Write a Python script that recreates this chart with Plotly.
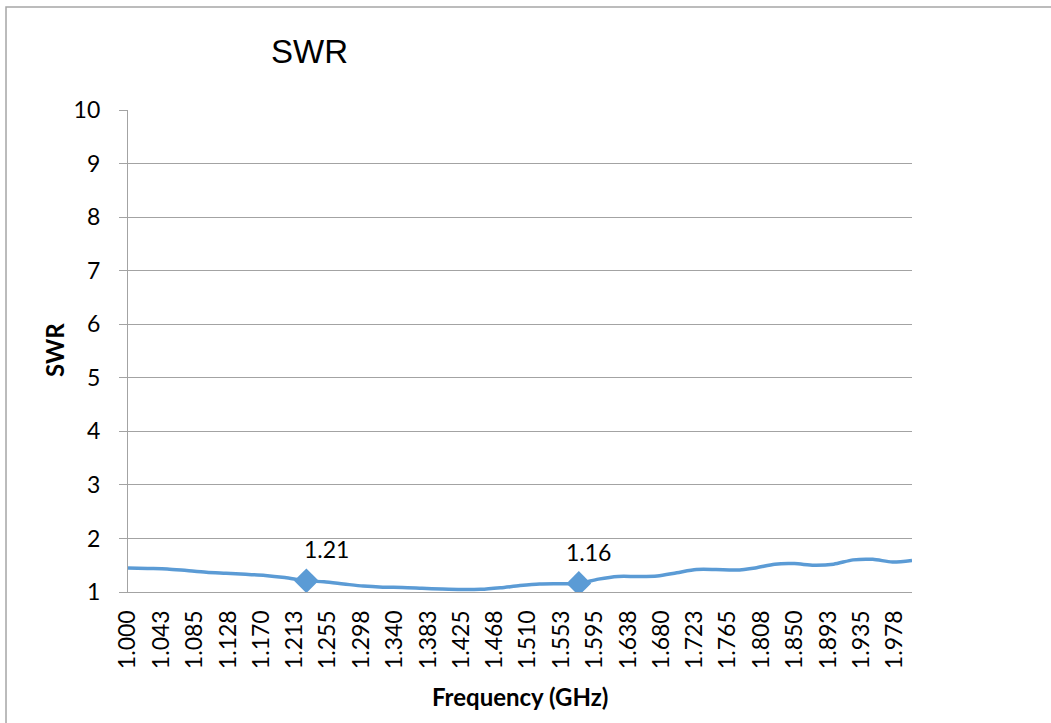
import plotly.graph_objects as go

# ---- data ----
freq_ghz = [1.000, 1.025, 1.050, 1.075, 1.100, 1.125, 1.150, 1.175, 1.200, 1.2275,
            1.250, 1.275, 1.300, 1.325, 1.350, 1.375, 1.400, 1.425, 1.450, 1.475,
            1.500, 1.525, 1.550, 1.575, 1.600, 1.625, 1.650, 1.675, 1.700, 1.725,
            1.750, 1.775, 1.800, 1.825, 1.850, 1.875, 1.900, 1.925, 1.950, 1.975, 2.000]
swr = [1.45, 1.44, 1.43, 1.40, 1.37, 1.35, 1.33, 1.31, 1.27, 1.21,
       1.19, 1.15, 1.11, 1.09, 1.085, 1.07, 1.055, 1.045, 1.05, 1.08,
       1.12, 1.15, 1.155, 1.16, 1.24, 1.29, 1.29, 1.30, 1.36, 1.42,
       1.42, 1.41, 1.45, 1.52, 1.53, 1.50, 1.52, 1.60, 1.61, 1.56, 1.59]

marker_freq = [1.2275, 1.575]
marker_swr = [1.21, 1.16]
marker_text = ["1.21", "1.16"]

x_tick_labels = ["1.000", "1.043", "1.085", "1.128", "1.170", "1.213", "1.255", "1.298",
                 "1.340", "1.383", "1.425", "1.468", "1.510", "1.553", "1.595", "1.638",
                 "1.680", "1.723", "1.765", "1.808", "1.850", "1.893", "1.935", "1.978"]
y_ticks = [1, 2, 3, 4, 5, 6, 7, 8, 9, 10]

LINE = "#5B9BD5"
GRID = "#A3A3A3"
TICKFONT = dict(family="Lato, Open Sans, sans-serif", size=23, color="#000000")

fig = go.Figure()
fig.add_trace(go.Scatter(x=freq_ghz, y=swr, mode="lines",
                         line=dict(color=LINE, width=3.5, shape="spline", smoothing=0.8),
                         showlegend=False, hoverinfo="skip"))
fig.add_trace(go.Scatter(x=marker_freq, y=marker_swr, mode="markers",
                         marker=dict(symbol="diamond", size=19, color=LINE, line=dict(width=0)),
                         showlegend=False))

shifts = [(20, 32), (10, 31)]
for xf, yv, t, (dx, dy) in zip(marker_freq, marker_swr, marker_text, shifts):
    fig.add_annotation(x=xf, y=yv, text=t, showarrow=False, xshift=dx, yshift=dy,
                       font=TICKFONT, xanchor="center", yanchor="middle")

# chart titles
fig.add_annotation(xref="paper", yref="paper", x=0.232, y=1.122, text="SWR", showarrow=False,
                   font=dict(family="Liberation Sans, Arial, sans-serif", size=33, color="#000000"),
                   xanchor="center", yanchor="middle")
fig.add_annotation(xref="paper", yref="paper", x=-0.0944, y=0.502, text="<b>SWR</b>", showarrow=False,
                   textangle=-90, font=dict(family="Lato, Open Sans, sans-serif", size=24, color="#000000"),
                   xanchor="center", yanchor="middle")
fig.add_annotation(xref="paper", yref="paper", x=0.5, y=-0.2158, text="<b>Frequency (GHz)</b>",
                   showarrow=False, font=dict(family="Lato, Open Sans, sans-serif", size=24, color="#000000"),
                   xanchor="center", yanchor="middle")

# outer chart border (partly outside the view)
fig.add_shape(type="rect", xref="paper", yref="paper", x0=-0.1556, y0=-1.0, x1=2.0, y1=1.2137,
              line=dict(color="#A6A6A6", width=1.5), fillcolor="rgba(0,0,0,0)", layer="below")

fig.update_layout(
    width=1051, height=723,
    margin=dict(l=128, r=139, t=110, b=131),
    paper_bgcolor="white", plot_bgcolor="white",
    showlegend=False,
)
fig.update_xaxes(range=[1.0, 2.0], tickvals=[float(t) for t in x_tick_labels], ticktext=x_tick_labels,
                 tickangle=-90, tickfont=TICKFONT, showgrid=False, zeroline=False,
                 showline=True, linecolor=GRID, linewidth=1.3, ticks="", ticklabelstandoff=8)
fig.update_yaxes(range=[1, 10], tickvals=y_ticks, tickfont=TICKFONT, showgrid=True, gridcolor=GRID,
                 gridwidth=1.3, zeroline=False, showline=True, linecolor=GRID, linewidth=1.3,
                 ticks="outside", ticklen=8, tickcolor=GRID, tickwidth=1.3, ticklabelstandoff=14)

fig.write_html("out.html", config={"displayModeBar": False},
               post_script="document.body.style.margin='0px';document.body.style.overflow='hidden';")
